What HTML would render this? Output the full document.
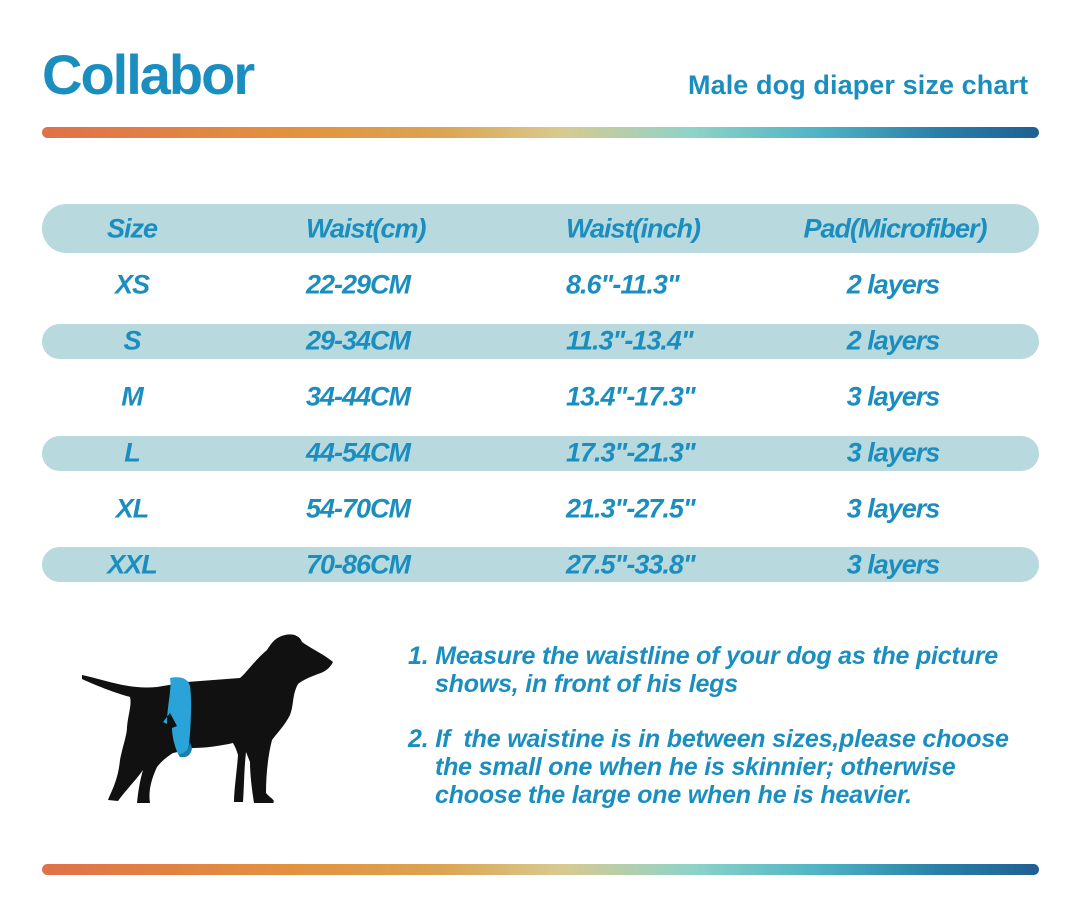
<!DOCTYPE html>
<html><head><meta charset="utf-8"><style>
*{margin:0;padding:0;box-sizing:border-box}
body{width:1079px;height:920px;background:#fff;position:relative;overflow:hidden;font-family:"Liberation Sans",sans-serif;color:#1b8ec0}
.abs{position:absolute;white-space:nowrap}
.bar{position:absolute;left:42px;width:997px;height:11px;border-radius:6px;background:linear-gradient(90deg,#e0714a 0%,#e2923f 25%,#dba452 40%,#d9c98f 52%,#8fd3c8 65%,#4fb3c4 78%,#2a7fa8 90%,#1f5f92 100%)}
.band{position:absolute;left:42px;width:997px;background:#b8d9dd;border-radius:18px}
.t{position:absolute;font-weight:bold;font-style:italic;font-size:27px;letter-spacing:-1px;transform:translateY(-50%)}
.c{transform:translate(-50%,-50%)}
.note{position:absolute;font-weight:bold;font-style:italic;font-size:25px;letter-spacing:-0.2px;line-height:28px}
</style></head><body>
<div class="abs" style="left:42px;top:42px;font-size:56px;font-weight:bold;letter-spacing:-2px">Collabor</div>
<div class="abs" style="left:688px;top:70px;font-size:27px;font-weight:bold;letter-spacing:0.1px">Male dog diaper size chart</div>
<div class="bar" style="top:127px"></div>
<div class="band" style="top:204px;height:49px;border-radius:25px"></div>
<div class="band" style="top:324px;height:35px"></div>
<div class="band" style="top:436px;height:35px"></div>
<div class="band" style="top:547px;height:35px"></div>

<div class="t c" style="left:132px;top:229px">Size</div>
<div class="t" style="left:306px;top:229px">Waist(cm)</div>
<div class="t" style="left:566px;top:229px">Waist(inch)</div>
<div class="t c" style="left:895px;top:229px">Pad(Microfiber)</div>

<div class="t c" style="left:132px;top:285px">XS</div><div class="t" style="left:306px;top:285px">22-29CM</div><div class="t" style="left:566px;top:285px">8.6"-11.3"</div><div class="t c" style="left:893px;top:285px">2 layers</div>
<div class="t c" style="left:132px;top:341px">S</div><div class="t" style="left:306px;top:341px">29-34CM</div><div class="t" style="left:566px;top:341px">11.3"-13.4"</div><div class="t c" style="left:893px;top:341px">2 layers</div>
<div class="t c" style="left:132px;top:397px">M</div><div class="t" style="left:306px;top:397px">34-44CM</div><div class="t" style="left:566px;top:397px">13.4"-17.3"</div><div class="t c" style="left:893px;top:397px">3 layers</div>
<div class="t c" style="left:132px;top:453px">L</div><div class="t" style="left:306px;top:453px">44-54CM</div><div class="t" style="left:566px;top:453px">17.3"-21.3"</div><div class="t c" style="left:893px;top:453px">3 layers</div>
<div class="t c" style="left:132px;top:509px">XL</div><div class="t" style="left:306px;top:509px">54-70CM</div><div class="t" style="left:566px;top:509px">21.3"-27.5"</div><div class="t c" style="left:893px;top:509px">3 layers</div>
<div class="t c" style="left:132px;top:565px">XXL</div><div class="t" style="left:306px;top:565px">70-86CM</div><div class="t" style="left:566px;top:565px">27.5"-33.8"</div><div class="t c" style="left:893px;top:565px">3 layers</div>

<svg class="abs" style="left:0;top:0" width="1079" height="920">
<path fill="#111" d="M82,675 C105,680 130,690 157,687 L187,682 L240,678 C247,672 255,660 267,650 C272,642 276,637 285,635 C293,633 300,636 302,642 C310,648 325,655 333,662 C330,668 325,672 318,674 C310,677 303,680 298,684 C292,695 294,705 290,715 C285,725 278,732 272,740 C268,755 266,775 266,793 C270,798 276,800 273,803 L254,803 C252,790 250,775 250,762 L246,752 C244,770 244,790 243,802 L234,802 C234,790 237,770 238,755 C236,748 234,745 233,743 C220,746 205,748 193,748 C185,750 178,752 173,753 C165,758 160,763 157,767 C152,778 148,790 150,803 L137,803 C138,792 140,780 143,770 C136,780 126,790 118,801 L108,800 C112,790 118,780 120,760 C123,745 127,735 127,727 C128,715 132,705 130,697 C115,693 95,685 82,679 Z"/>
<path fill="#2aa3d8" d="M170,678 C180,676 188,678 190,686 C192,700 191,725 189,745 C188,752 184,755 178,754 C174,745 172,735 172,728 L177,726 L170,713 L163,722 L167,724 C167,705 172,690 170,678 Z"/>
<path fill="#1b7eaa" d="M178,754 C184,754 189,750 190,742 L192,748 C191,756 186,758 180,757 Z"/>
</svg>

<div class="note" style="left:408px;top:642px">1. Measure the waistline of your dog as the picture<br>&nbsp;&nbsp;&nbsp;&nbsp;shows, in front of his legs</div>
<div class="note" style="left:408px;top:725px">2. If&nbsp; the waistine is in between sizes,please choose<br>&nbsp;&nbsp;&nbsp;&nbsp;the small one when he is skinnier; otherwise<br>&nbsp;&nbsp;&nbsp;&nbsp;choose the large one when he is heavier.</div>

<div class="bar" style="top:864px"></div>
</body></html>
